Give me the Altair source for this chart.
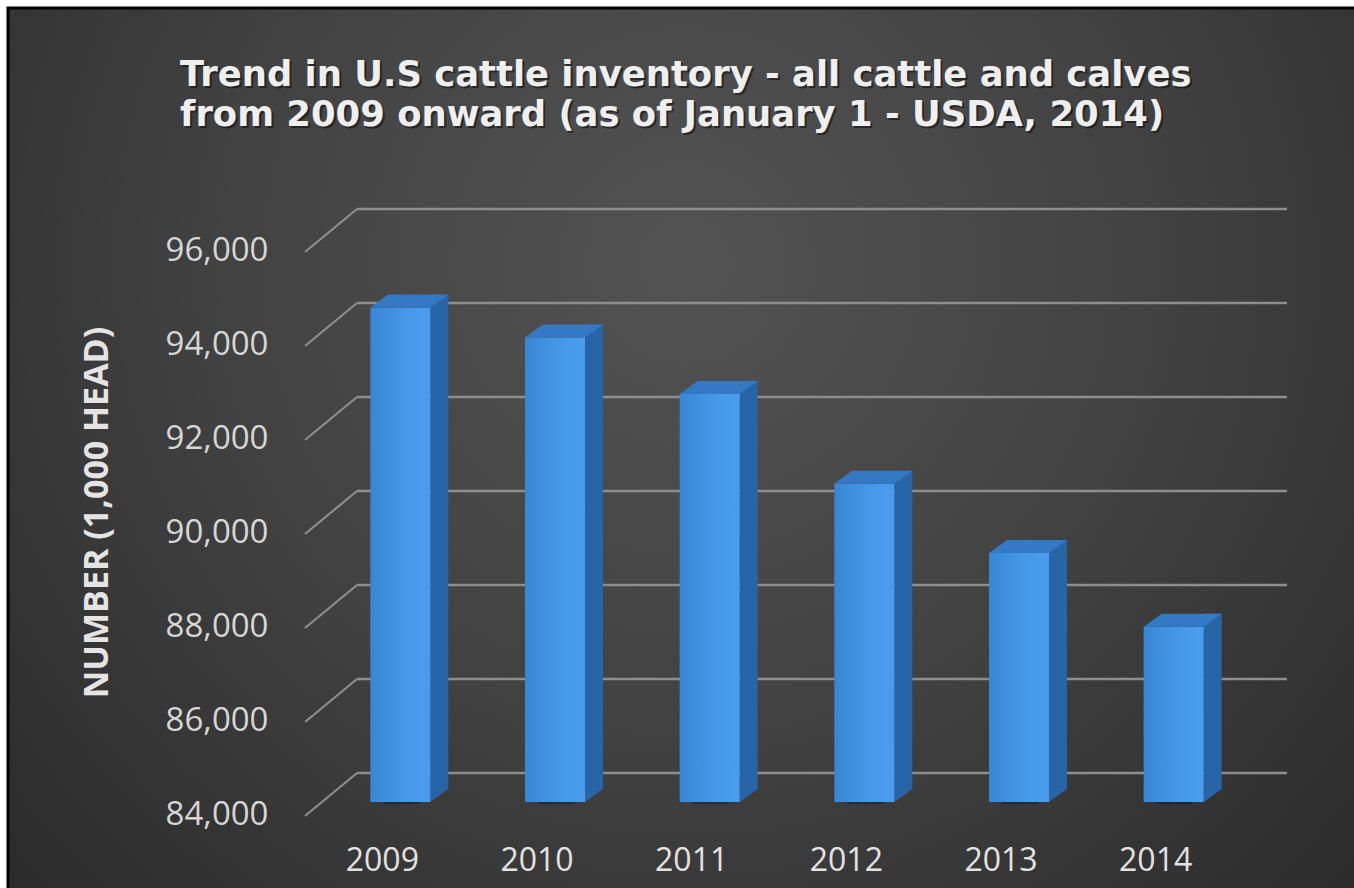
import altair as alt
import pandas as pd

# ---------------- data ----------------
years = ["2009", "2010", "2011", "2012", "2013", "2014"]
values = [94521, 93881, 92682, 90769, 89300, 87730]
ticks = [84000, 86000, 88000, 90000, 92000, 94000, 96000]
base_value = 84000
title_lines = [
    "Trend in U.S cattle inventory - all cattle and calves",
    "from 2009 onward (as of January 1 - USDA, 2014)",
]
y_title = "NUMBER (1,000 HEAD)"

bars_df = pd.DataFrame({"year": years, "value": values, "base": [base_value] * len(years)})
tick_df = pd.DataFrame({"tick": ticks})
one_df = pd.DataFrame({"k": [0]})

# ---------------- layout / style ----------------
W, H = 928, 611
LEFT, TOP = 323, 191
RIGHT, BOTTOM = 1354 - LEFT - W, 888 - TOP - H

FRONT = alt.LinearGradient(
    gradient="linear", x1=0, y1=0, x2=1, y2=0,
    stops=[alt.GradientStop(color="#3887d4", offset=0),
           alt.GradientStop(color="#4699e8", offset=0.6),
           alt.GradientStop(color="#4a9dee", offset=1)])
SIDE = "#2865a6"
TOPC = "#3479c4"
GRID = "#8e8e8e"

BG = alt.RadialGradient(
    gradient="radial", x1=0.5, y1=0.36, r1=0, x2=0.5, y2=0.36, r2=0.75,
    stops=[alt.GradientStop(color="#535353", offset=0),
           alt.GradientStop(color="#424242", offset=0.45),
           alt.GradientStop(color="#262626", offset=1)])

xs = alt.Scale(domain=years, paddingInner=0.612, paddingOuter=0.306)
ys = alt.Scale(domain=[84000, 97000], nice=False, zero=False)

xaxis = alt.Axis(title=None, labelAngle=0, labelFont="Open Sans", labelFontSize=32,
                 labelColor="#e2e2e2", labelPadding=43, labelOffset=-18,
                 domain=False, ticks=False, grid=False, zindex=2)
yaxis = alt.Axis(values=ticks, format=",d", labelFont="Open Sans", labelFontSize=33,
                 labelColor="#d6d6d6", labelPadding=55, labelOffset=12,
                 labelFlush=False, labelOverlap=False,
                 domain=False, ticks=False, grid=False, zindex=2,
                 title=y_title, titleFont="Open Sans", titleFontWeight="bold",
                 titleFontSize=34, titleColor="#e4e4e4", titleX=-226, titleY=321,
                 titleAlign="center", titleBaseline="middle")

X = alt.X("year:N", scale=xs, axis=xaxis, sort=years)

# background panel
bg = alt.Chart(one_df).mark_rect(fill=BG, stroke="#000000", strokeWidth=3).encode(
    x=alt.value(8 - LEFT), x2=alt.value(1354 - LEFT + 10),
    y=alt.value(8 - TOP), y2=alt.value(888 - TOP + 10))

# back-wall gridlines
grid = alt.Chart(tick_df).mark_rule(color=GRID, strokeWidth=2.5, yOffset=-29).encode(
    y=alt.Y("tick:Q", scale=ys, axis=yaxis),
    x=alt.value(357 - LEFT), x2=alt.value(1287 - LEFT))

# side-wall diagonal lines
diag = alt.Chart(tick_df).mark_point(
    shape="M -1 0.827 L 1 -0.827", size=2704, filled=False, stroke=GRID,
    strokeWidth=2.2, opacity=1, yOffset=-7.5).encode(
    y=alt.Y("tick:Q", scale=ys, axis=yaxis), x=alt.value(331 - LEFT))

# floor shadow
shadow = alt.Chart(bars_df).mark_point(
    shape="M -0.95 0.12 L 0.95 0.12 L 1.45 -0.38 L -0.45 -0.38 Z", size=1444,
    filled=True, fill="#000000", opacity=0.28, strokeWidth=0).encode(
    x=X, y=alt.Y("base:Q", scale=ys, axis=yaxis))

# side face
side = alt.Chart(bars_df).mark_bar(
    width=18, xOffset=39, yOffset=-13, y2Offset=-13, fill=SIDE).encode(
    x=X, y=alt.Y("value:Q", scale=ys, axis=yaxis), y2="base:Q")

# bottom cap of side face
cap = alt.Chart(bars_df).mark_point(
    shape="M 0.769 0 L 1.231 -0.333 L 0.769 -0.333 Z", size=6084,
    filled=True, fill=SIDE, opacity=1, strokeWidth=0).encode(
    x=X, y=alt.Y("base:Q", scale=ys, axis=yaxis))

# front face
front = alt.Chart(bars_df).mark_bar(fill=FRONT).encode(
    x=X, y=alt.Y("value:Q", scale=ys, axis=yaxis), y2="base:Q")

# top face
topf = alt.Chart(bars_df).mark_point(
    shape="M -0.769 0 L 0.769 0 L 1.231 -0.333 L -0.308 -0.333 Z", size=6084,
    filled=True, fill=TOPC, opacity=1, strokeWidth=0).encode(
    x=X, y=alt.Y("value:Q", scale=ys, axis=yaxis))

# chart title (two lines)
title_sh = alt.Chart(one_df).mark_text(
    align="left", baseline="alphabetic", font="DejaVu Sans", fontWeight="bold",
    fontSize=35.4, lineHeight=40, color="#111111", opacity=0.6).encode(
    x=alt.value(182 - LEFT), y=alt.value(88 - TOP), text=alt.value(title_lines))
title = alt.Chart(one_df).mark_text(
    align="left", baseline="alphabetic", font="DejaVu Sans", fontWeight="bold",
    fontSize=35.4, lineHeight=40, color="#efefef").encode(
    x=alt.value(180 - LEFT), y=alt.value(86 - TOP), text=alt.value(title_lines))

chart = alt.layer(bg, grid, diag, shadow, side, cap, front, topf, title_sh, title).properties(
    width=W, height=H,
    padding={"left": LEFT, "top": TOP, "right": RIGHT, "bottom": BOTTOM},
    autosize=alt.AutoSizeParams(type="none"),
    background="#ffffff",
).configure_view(stroke=None)

chart.save("out.html", embed_options={"renderer": "svg", "actions": False})
